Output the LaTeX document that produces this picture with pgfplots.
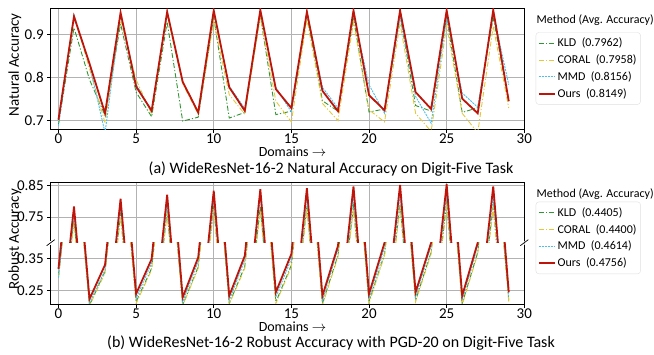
\documentclass[border=0pt]{standalone}
\usepackage{pgfplots}
\pgfplotsset{compat=1.18}
\usepackage{pgfplotstable}
\usepackage{fontspec}
\setmainfont{Carlito}
\definecolor{kldc}{RGB}{50,150,50}
\definecolor{coralc}{RGB}{228,200,60}
\definecolor{mmdc}{RGB}{80,190,230}
\definecolor{oursc}{RGB}{190,20,10}

\pgfplotstableread{
d kld coral mmd ours
0 0.692 0.700 0.688 0.702
1 0.915 0.945 0.945 0.941
2 0.795 0.820 0.830 0.832
3 0.712 0.695 0.672 0.717
4 0.924 0.935 0.945 0.950
5 0.766 0.795 0.785 0.779
6 0.709 0.715 0.720 0.723
7 0.928 0.945 0.950 0.952
8 0.699 0.785 0.790 0.790
9 0.708 0.715 0.720 0.719
10 0.939 0.930 0.950 0.955
11 0.706 0.760 0.780 0.777
12 0.719 0.715 0.728 0.723
13 0.943 0.940 0.950 0.956
14 0.714 0.745 0.777 0.773
15 0.722 0.697 0.720 0.729
16 0.943 0.935 0.950 0.952
17 0.746 0.740 0.777 0.769
18 0.722 0.700 0.729 0.722
19 0.939 0.928 0.945 0.955
20 0.720 0.725 0.783 0.759
21 0.727 0.697 0.717 0.724
22 0.943 0.925 0.940 0.955
23 0.735 0.717 0.756 0.766
24 0.722 0.675 0.694 0.727
25 0.939 0.920 0.937 0.955
26 0.719 0.717 0.764 0.751
27 0.730 0.672 0.731 0.717
28 0.939 0.918 0.948 0.956
29 0.745 0.729 0.783 0.745
}\natdata

\pgfplotstableread{
d kld coral mmd ours
0 0.295 0.290 0.290 0.318
1 0.740 0.730 0.760 0.783
2 0.205 0.203 0.212 0.224
3 0.310 0.305 0.315 0.331
4 0.760 0.750 0.785 0.808
5 0.215 0.210 0.226 0.240
6 0.320 0.315 0.336 0.349
7 0.770 0.760 0.795 0.821
8 0.205 0.203 0.215 0.229
9 0.325 0.320 0.342 0.354
10 0.785 0.775 0.810 0.834
11 0.210 0.208 0.220 0.234
12 0.326 0.320 0.346 0.359
13 0.785 0.770 0.815 0.839
14 0.215 0.210 0.230 0.245
15 0.330 0.325 0.350 0.365
16 0.785 0.775 0.815 0.842
17 0.210 0.205 0.220 0.234
18 0.360 0.355 0.380 0.390
19 0.785 0.775 0.815 0.848
20 0.215 0.210 0.225 0.240
21 0.365 0.360 0.385 0.400
22 0.790 0.780 0.820 0.853
23 0.220 0.215 0.230 0.245
24 0.370 0.365 0.390 0.400
25 0.795 0.785 0.825 0.855
26 0.210 0.205 0.220 0.234
27 0.370 0.365 0.390 0.400
28 0.785 0.775 0.815 0.848
29 0.220 0.215 0.230 0.245
}\robdata

\pgfplotsset{
  base/.style={
    scale only axis, width=473.6pt,
    xmin=-0.5, xmax=30, xtick={0,5,...,30},
    grid=major, grid style={gray!60, line width=0.6pt},
    tick align=outside, tick pos=left, major tick length=3.5pt,
    tick style={black, line width=0.6pt},
    ticklabel style={font=\fontsize{15}{17}\selectfont},
    xticklabel style={inner sep=0.5pt},
    /pgf/number format/assume math mode=true,
    legend cell align=left,
    legend image code/.code={\draw[##1] (0pt,0pt) -- (16pt,0pt);},
    legend style={draw=gray!25, rounded corners=3pt, fill=white,
      font=\fontsize{12}{14}\selectfont, inner xsep=2pt, inner ysep=3.5pt,
      row sep=2.6pt},
  },
  kld/.style={color=kldc, line width=0.9pt, dash pattern=on 5pt off 2pt on 1.2pt off 2pt},
  coral/.style={color=coralc, line width=0.9pt, dash pattern=on 5pt off 2pt on 1.2pt off 2pt},
  mmd/.style={color=mmdc, line width=0.9pt, dash pattern=on 2pt off 1pt},
  ours/.style={color=oursc, line width=1.8pt},
}

\begin{document}
\begin{tikzpicture}
\useasboundingbox (0pt,0pt) rectangle (654pt,354pt);

% ---------- (a) natural accuracy ----------
\begin{axis}[base, at={(50.7pt,224.7pt)}, anchor=south west, height=121pt,
  ymin=0.68, ymax=0.96, ytick={0.7,0.8,0.9},
  yticklabel style={/pgf/number format/.cd, fixed, fixed zerofill, precision=1},
  axis line style={black, line width=0.8pt},
  legend style={at={(1.024,0.8017)}, anchor=north west}]
\addplot[kld] table[x=d, y=kld] {\natdata};
\addlegendentry{KLD~~(0.7962)\hspace{8pt}}
\addplot[coral] table[x=d, y=coral] {\natdata};
\addlegendentry{CORAL~~(0.7958)\hspace{8pt}}
\addplot[mmd] table[x=d, y=mmd] {\natdata};
\addlegendentry{MMD~~(0.8156)\hspace{8pt}}
\addplot[ours] table[x=d, y=ours] {\natdata};
\addlegendentry{Ours~~(0.8149)\hspace{8pt}}
\end{axis}

% ---------- (b) robust accuracy, upper part ----------
\begin{axis}[base, at={(50.7pt,111.3pt)}, anchor=south west, height=60pt,
  ymin=0.6665, ymax=0.86, ytick={0.75,0.85},
  yticklabel style={/pgf/number format/.cd, fixed, fixed zerofill, precision=2},
  xticklabels={}, xtick style={draw=none},
  axis line style={draw=none},
  legend style={at={(1.024,0.683)}, anchor=north west}]
\addplot[kld] table[x=d, y=kld] {\robdata};
\addlegendentry{KLD~~(0.4405)\hspace{8pt}}
\addplot[coral] table[x=d, y=coral] {\robdata};
\addlegendentry{CORAL~~(0.4400)\hspace{8pt}}
\addplot[mmd] table[x=d, y=mmd] {\robdata};
\addlegendentry{MMD~~(0.4614)\hspace{8pt}}
\addplot[ours] table[x=d, y=ours] {\robdata};
\addlegendentry{Ours~~(0.4756)\hspace{8pt}}
\end{axis}

% ---------- (b) robust accuracy, lower part ----------
\begin{axis}[base, at={(50.7pt,49.7pt)}, anchor=south west, height=61.6pt,
  ymin=0.2075, ymax=0.40, ytick={0.25,0.35},
  yticklabel style={/pgf/number format/.cd, fixed, fixed zerofill, precision=2},
  axis line style={draw=none}]
\addplot[kld] table[x=d, y=kld] {\robdata};
\addplot[coral] table[x=d, y=coral] {\robdata};
\addplot[mmd] table[x=d, y=mmd] {\robdata};
\addplot[ours] table[x=d, y=ours] {\robdata};
\end{axis}

% frame of the broken axis
\draw[black, line width=0.8pt] (50.7pt,113.3pt) -- (50.7pt,171.3pt) -- (524.3pt,171.3pt) -- (524.3pt,113.3pt);
\draw[black, line width=0.8pt] (50.7pt,109.3pt) -- (50.7pt,49.7pt) -- (524.3pt,49.7pt) -- (524.3pt,109.3pt);
\draw[black, line width=0.7pt] (46.7pt,108.3pt) -- (54.7pt,114.3pt);
\draw[black, line width=0.7pt] (520.3pt,108.3pt) -- (528.3pt,114.3pt);

% labels
\node[rotate=90, font=\fontsize{15}{17}\selectfont] at (15pt,289pt) {Natural Accuracy};
\node[rotate=90, font=\fontsize{15}{17}\selectfont] at (15pt,115pt) {Robust Accuracy};
\node[font=\fontsize{14}{16}\selectfont, inner sep=0pt] at (292.5pt,202pt) {Domains $\rightarrow$};
\node[font=\fontsize{14}{16}\selectfont, inner sep=0pt] at (292.5pt,27pt) {Domains $\rightarrow$};
\node[font=\fontsize{16}{18}\selectfont, inner sep=0pt] at (331pt,184.5pt) {(a) WideResNet-16-2 Natural Accuracy on Digit-Five Task};
\node[font=\fontsize{16}{18}\selectfont, inner sep=0pt] at (331pt,10.5pt) {(b) WideResNet-16-2 Robust Accuracy with PGD-20 on Digit-Five Task};
\node[anchor=west, font=\fontsize{12}{14}\selectfont, inner sep=0pt] at (536.5pt,334pt) {Method (Avg. Accuracy)};
\node[anchor=west, font=\fontsize{12}{14}\selectfont, inner sep=0pt] at (536.5pt,159.7pt) {Method (Avg. Accuracy)};
\end{tikzpicture}
\end{document}
